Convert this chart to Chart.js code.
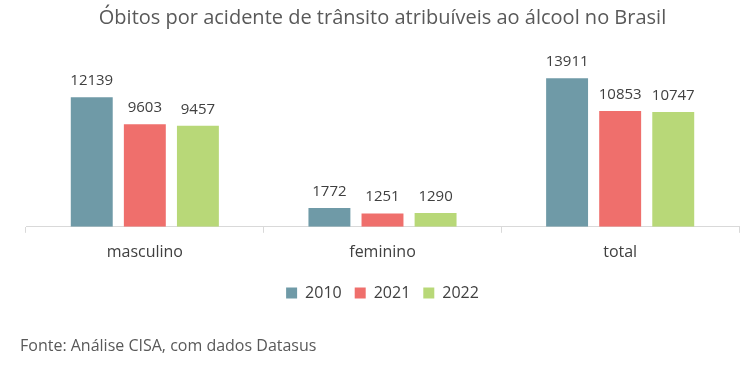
<!DOCTYPE html>
<html>
<head>
<meta charset="utf-8">
<script src="https://cdn.jsdelivr.net/npm/chart.js@4"></script>
<style>
    body { margin: 0; background: #fff; }
    #wrap { position: relative; width: 755px; height: 367px; }
    #fonte {
        position: absolute; left: 20px; top: 334px;
        font-family: "Open Sans", sans-serif; font-size: 16px; color: #595959;
    }
</style>
</head>
<body>
<div id="wrap">
    <canvas id="obitos-chart" width="755" height="367"></canvas>
    <div id="fonte">Fonte: Análise CISA, com dados Datasus</div>
</div>
<script>
const categorias = ["masculino", "feminino", "total"];
const anos = ["2010", "2021", "2022"];
const valores2010 = [12139, 1772, 13911];
const valores2021 = [9603, 1251, 10853];
const valores2022 = [9457, 1290, 10747];
const cores = ["#6f9aa7", "#ef6f6c", "#b8d878"];

// plugin kecil buat label angka di atas bar
const labelAtas = {
    id: "labelAtas",
    afterDatasetsDraw(chart) {
        const ctx = chart.ctx;
        ctx.save();
        ctx.font = "15px 'Open Sans', sans-serif";
        ctx.fillStyle = "#404040";
        ctx.textAlign = "center";
        ctx.textBaseline = "bottom";
        chart.data.datasets.forEach((ds, i) => {
            chart.getDatasetMeta(i).data.forEach((bar, j) => {
                ctx.fillText(String(ds.data[j]), bar.x, bar.y - 9);
            });
        });
        ctx.restore();
    },
};

const ctx = document.getElementById("obitos-chart").getContext("2d");
new Chart(ctx, {
    type: "bar",
    data: {
        labels: categorias,
        datasets: [
            { label: anos[0], data: valores2010, backgroundColor: cores[0] },
            { label: anos[1], data: valores2021, backgroundColor: cores[1] },
            { label: anos[2], data: valores2022, backgroundColor: cores[2] },
        ],
    },
    options: {
        responsive: false,
        animation: false,
        categoryPercentage: 0.67,
        barPercentage: 0.79,
        layout: { padding: { left: 26, right: 16, top: 4, bottom: 56 } },
        scales: {
            y: { display: false, min: 0, max: 16000 },
            x: {
                grid: {
                    offset: true,
                    drawOnChartArea: false,
                    color: "#d9d9d9",
                    tickLength: 6,
                },
                border: { color: "#d9d9d9" },
                ticks: {
                    color: "#404040",
                    font: { family: "'Open Sans', sans-serif", size: 16 },
                    padding: 10,
                },
            },
        },
        plugins: {
            title: {
                display: true,
                text: "Óbitos por acidente de trânsito atribuíveis ao álcool no Brasil",
                color: "#595959",
                font: { family: "'Open Sans', sans-serif", size: 20, weight: "500" },
                padding: { top: 2, bottom: 26 },
            },
            legend: {
                position: "bottom",
                labels: {
                    color: "#404040",
                    font: { family: "'Open Sans', sans-serif", size: 16 },
                    boxWidth: 11,
                    boxHeight: 11,
                    padding: 13,
                },
            },
            tooltip: { enabled: false },
        },
    },
    plugins: [labelAtas],
});
</script>
</body>
</html>
